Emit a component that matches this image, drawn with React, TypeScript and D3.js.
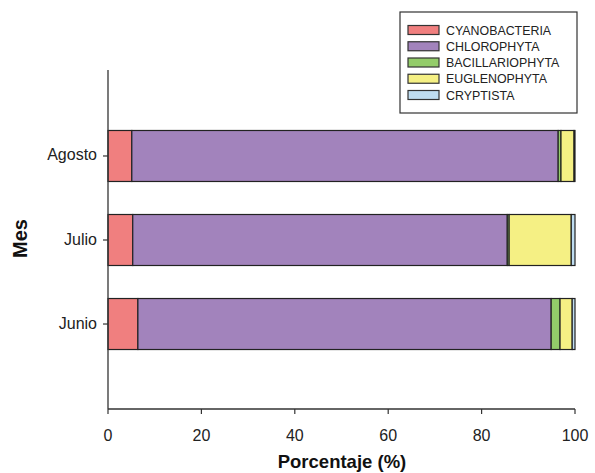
import React from "react";
import * as d3 from "d3";

const months = ["Agosto", "Julio", "Junio"];
const groups = ["CYANOBACTERIA", "CHLOROPHYTA", "BACILLARIOPHYTA", "EUGLENOPHYTA", "CRYPTISTA"];
const cyanobacteria = [5.1, 5.3, 6.4];
const chlorophyta = [91.3, 80.2, 88.5];
const bacillariophyta = [0.6, 0.4, 1.9];
const euglenophyta = [2.8, 13.3, 2.6];
const cryptista = [0.2, 0.8, 0.6];
const colors = ["#F07F7F", "#A283BC", "#93CC6A", "#F5F084", "#BFDDF1"];
const xTicks = [0, 20, 40, 60, 80, 100];

export default function App() {
  const W = 595, H = 473;
  const left = 108, right = 575, top = 70, bottom = 409;
  const x = d3.scaleLinear().domain([0, 100]).range([left, right]);
  const y = d3.scaleBand<string>().domain(months).range([top + 1, bottom]).paddingInner(0.393).paddingOuter(0.708);
  const rows = months.map((m, i) => ({
    month: m,
    CYANOBACTERIA: cyanobacteria[i],
    CHLOROPHYTA: chlorophyta[i],
    BACILLARIOPHYTA: bacillariophyta[i],
    EUGLENOPHYTA: euglenophyta[i],
    CRYPTISTA: cryptista[i],
  }));
  const stack = d3.stack<any>().keys(groups)(rows);
  const font = "Liberation Sans, Arial, sans-serif";
  return (
    <svg width={W} height={H} style={{ position: "absolute", left: 0, top: 0, background: "#fff" }} fontFamily={font}>
      {stack.map((s, gi) =>
        s.map((d, i) => (
          <rect
            key={gi + "-" + i}
            x={x(d[0])}
            y={y(months[i])!}
            width={x(d[1]) - x(d[0])}
            height={y.bandwidth()}
            fill={colors[gi]}
            stroke="#222"
            strokeWidth={1.2}
          />
        ))
      )}
      {/* axes */}
      <line x1={left} x2={left} y1={top} y2={bottom} stroke="#333" strokeWidth={1.3} />
      <line x1={left} x2={right} y1={bottom} y2={bottom} stroke="#333" strokeWidth={1.3} />
      {xTicks.map((t) => (
        <g key={t}>
          <line x1={x(t)} x2={x(t)} y1={bottom} y2={bottom + 5} stroke="#333" strokeWidth={1.2} />
          <text x={x(t)} y={440.5} textAnchor="middle" fontSize={16} fill="#222">{t}</text>
        </g>
      ))}
      {months.map((m) => (
        <g key={m}>
          <line x1={left - 5} x2={left} y1={y(m)! + y.bandwidth() / 2} y2={y(m)! + y.bandwidth() / 2} stroke="#333" strokeWidth={1.2} />
          <text x={97} y={y(m)! + y.bandwidth() / 2 + 4.5} textAnchor="end" fontSize={16} fill="#222">{m}</text>
        </g>
      ))}
      <text x={342} y={468} textAnchor="middle" fontSize={18.5} fontWeight="bold" fill="#111">Porcentaje (%)</text>
      <text transform={`translate(27,238.5) rotate(-90)`} textAnchor="middle" fontSize={20} fontWeight="bold" fill="#111">Mes</text>
      {/* legend */}
      <rect x={400} y={12} width={177} height={101} fill="#fff" stroke="#333" strokeWidth={1.2} />
      {groups.map((g, i) => (
        <g key={g} transform={`translate(408,${30 + i * 16.25})`}>
          <rect x={0} y={-4.5} width={31} height={9} fill={colors[i]} stroke="#333" strokeWidth={1.2} />
          <text x={38} y={4.5} fontSize={12.4} fill="#222">{g}</text>
        </g>
      ))}
    </svg>
  );
}
